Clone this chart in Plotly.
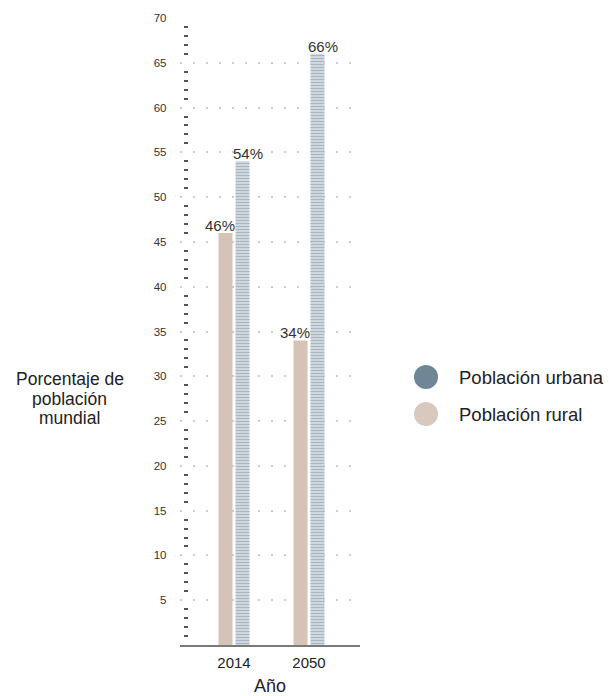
import plotly.graph_objects as go

# Share of world population living in rural vs. urban areas
years = ["2014", "2050"]
rural = [46, 34]
urban = [54, 66]
series_names = ["Población rural", "Población urbana"]
y_ticks = list(range(5, 75, 5))
y_minor_ticks = [v for v in range(1, 70) if v % 5]

FONT = "Liberation Sans, Arial, sans-serif"
RURAL_COLOR = "#d5c3b8"
URBAN_COLOR = "#6f8697"
URBAN_STRIPE = "#61778a"

W, H = 609, 696
ML, MR, MT, MB = 180, 249, 18, 51
PW, PH = W - ML - MR, H - MT - MB

BARGAP, BARGROUPGAP = 0.547, 0.176
xpos = list(range(len(years)))

fig = go.Figure()
fig.add_trace(go.Bar(
    x=xpos, y=rural, name=series_names[0],
    marker=dict(color=RURAL_COLOR, line=dict(width=0)),
    showlegend=False, hoverinfo="skip",
))
fig.add_trace(go.Bar(
    x=xpos, y=urban, name=series_names[1],
    marker=dict(
        color="#f1f4f7", line=dict(width=0),
        pattern=dict(shape="-", size=3, solidity=0.65, fgcolor=URBAN_STRIPE,
                     bgcolor="#f1f4f7"),
    ),
    showlegend=False, hoverinfo="skip",
))

# value labels above each bar, nudged outward from the pair
slot = (1 - BARGAP) / 2
annotations = []
for i, (r, u) in enumerate(zip(rural, urban)):
    annotations.append(dict(
        x=i - slot / 2, y=r, xref="x", yref="y", text=f"{r}%",
        showarrow=False, yanchor="bottom", xshift=-5.5, yshift=-3,
        font=dict(family=FONT, size=15, color="#333333"),
    ))
    annotations.append(dict(
        x=i + slot / 2, y=u, xref="x", yref="y", text=f"{u}%",
        showarrow=False, yanchor="bottom", xshift=5.5, yshift=-3,
        font=dict(family=FONT, size=15, color="#333333"),
    ))


def px_x(px):
    return (px - ML) / PW


def px_y(py):
    return (MT + PH - py) / PH


# y-axis title written horizontally to the left of the axis, tight line pitch
for line, cy in zip(["Porcentaje de", "población", "mundial"], [378, 398, 418]):
    annotations.append(dict(
        x=px_x(70), y=px_y(cy), xref="paper", yref="paper",
        text=line, showarrow=False, height=19, valign="middle",
        xanchor="center", yanchor="middle", align="center",
        font=dict(family=FONT, size=17.5, color="#222222"),
    ))

# legend: circular swatches with labels
shapes = []
legend_items = [(series_names[1], URBAN_COLOR, 377), (series_names[0], "#d9c8bd", 414)]
for label, color, cy in legend_items:
    shapes.append(dict(
        type="circle", xref="paper", yref="paper",
        xsizemode="pixel", ysizemode="pixel",
        xanchor=px_x(426), yanchor=px_y(cy),
        x0=-12, x1=12, y0=-12, y1=12,
        fillcolor=color, line=dict(width=0),
    ))
    annotations.append(dict(
        x=px_x(457), y=px_y(cy), xref="paper", yref="paper",
        text=label, showarrow=False, xanchor="left", yanchor="middle",
        font=dict(family=FONT, size=18.5, color="#222222"),
    ))

fig.update_layout(
    width=W, height=H,
    margin=dict(l=ML, r=MR, t=MT, b=MB, pad=0, autoexpand=False),
    paper_bgcolor="white", plot_bgcolor="white",
    barmode="group", bargap=BARGAP, bargroupgap=BARGROUPGAP,
    showlegend=False,
    annotations=annotations, shapes=shapes,
    xaxis=dict(
        domain=[0, 1],
        range=[-0.72, 1.68],
        tickvals=xpos, ticktext=years,
        ticks="", showgrid=False, zeroline=False,
        showline=True, linecolor="#7a7a7a", linewidth=2,
        tickfont=dict(family=FONT, size=15, color="#222222"),
        ticklabelstandoff=3,
        title=dict(text="Año", standoff=13,
                   font=dict(family=FONT, size=18, color="#222222")),
        automargin=False,
        fixedrange=True,
    ),
    yaxis=dict(
        anchor="free", position=7.5 / PW,
        range=[0, 70],
        tickvals=y_ticks, ticks="",
        showgrid=True, gridcolor="#cccccc", gridwidth=2, griddash="2px,11px",
        zeroline=False, showline=False,
        tickfont=dict(family=FONT, size=11.5, color="#333333"),
        ticklabelstandoff=21,
        minor=dict(ticks="outside", ticklen=4, tickwidth=1.5, tickcolor="#555555",
                   tickvals=y_minor_ticks, showgrid=False),
        automargin=False,
        fixedrange=True,
    ),
)

fig.write_html("out.html")
